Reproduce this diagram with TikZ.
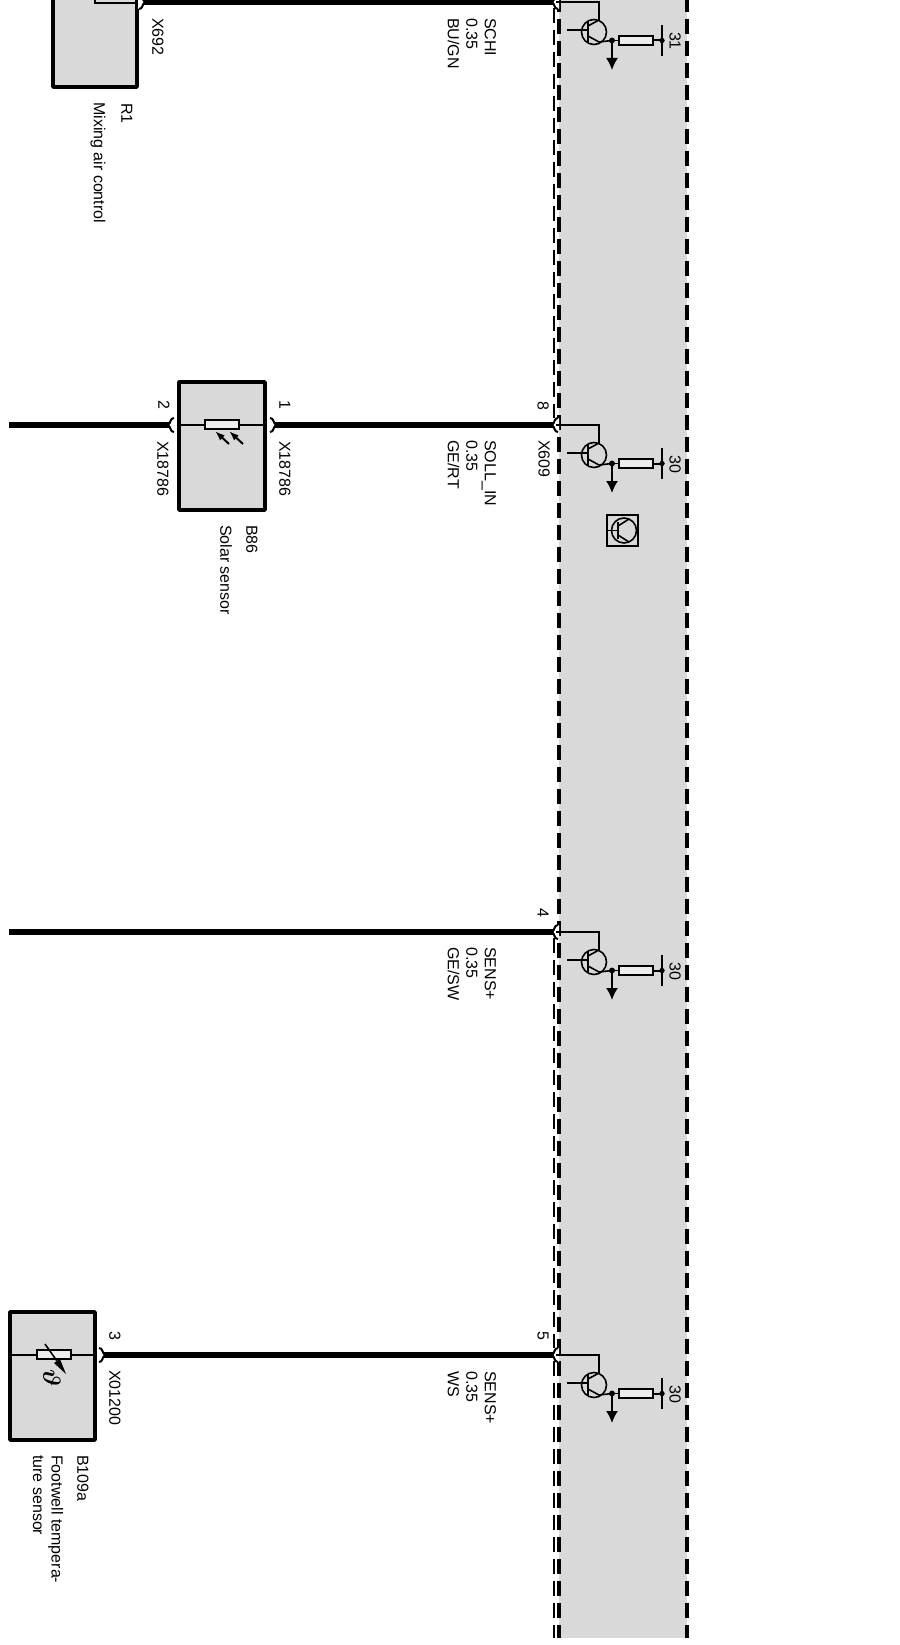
\documentclass[tikz,border=0pt]{standalone}
\usepackage{fontspec}
\setmainfont{Liberation Sans}
\usetikzlibrary{arrows.meta}

\definecolor{boxgray}{HTML}{D9D9D9}
\definecolor{resgray}{HTML}{EDEDED}

\tikzset{
    wire/.style={line width=5.5pt},
    thinwire/.style={line width=1.6pt},
    boxline/.style={line width=3.6pt, fill=boxgray, line join=round},
    pindash/.style={line width=2pt, dash pattern=on 15pt off 7pt},
    ecudash/.style={line width=3.4pt, dash pattern=on 15pt off 7pt},
    reslt/.style={line width=1.7pt, fill=resgray},
    lbl/.style={rotate=-90, anchor=west, inner sep=0pt, align=left, font=\fontsize{16}{18.5}\selectfont},
    pics/pinmark/.style={code={
        \fill[white] (0,-7) .. controls (-3,-7) and (-3,-2) .. (-5,0) .. controls (-3,2) and (-3,7) .. (0,7) -- (2,7) -- (2,-7) -- cycle;
        \draw[line width=2pt] (1,-7) .. controls (-3,-7) and (-2,-2) .. (-5,0) .. controls (-2,2) and (-3,7) .. (1,7);
    }},
    pics/outstage/.style={code={
        \draw[thinwire] (4,0) -- (47,0) -- (47,18) -- (36,24); %collector
        \draw[thinwire] (36,34) -- (47,40) -- (60,38.5); %emitter
        \draw[thinwire] (15,28) -- (36,28); %base
        \draw[line width=2pt] (36,19) -- (36,40);
        \draw[thinwire] (42,30) circle (12.5pt);
        \filldraw (60,38.5) circle (2.7pt);
        \draw[thinwire, -{Latex[length=12pt,width=12pt]}] (60,38.5) -- (60,68);
        \draw[thinwire] (60,38.5) -- (67,38.5);
        \draw[reslt] (67,34) rectangle (101,43);
        \draw[line width=2pt] (101,38.5) -- (110,38.5);
        \draw[line width=2.2pt] (110,23) -- (110,54);
        \filldraw (110,38.5) circle (2.4pt);
        \node[lbl, anchor=center] (num) at (123,39) {#1};
    }}
}

\begin{document}
\begin{tikzpicture}[x=1pt, y=-1pt]
    \useasboundingbox (0,0) rectangle (899,1645);

    % Control unit
    \fill[boxgray] (559,-3) rectangle (687,1638);
    \draw[ecudash] (559,-3) -- (559,1638);
    \draw[ecudash] (687,-3) -- (687,1638);
    \draw[pindash] (554,8) -- (554,418);
    \draw[pindash] (554,938) -- (554,1348);
    \draw[pindash] (554,1361) -- (554,1638);

    % Components
    \draw[boxline] (53,-10) rectangle (137,87); %R1
    \draw[thinwire] (95,-10) -- (95,3) -- (137,3);
    \draw[boxline] (179,382) rectangle (265,510); %B86
    \draw[boxline] (10,1312) rectangle (95,1440); %B109a

    % Pin points
    \coordinate (pinMixA) at (140,2);
    \coordinate (pinMixB) at (557,2);
    \coordinate (freeSol) at (9,425);
    \coordinate (pinSolA) at (173,425);
    \coordinate (pinSolB) at (271,425);
    \coordinate (pinSolC) at (557,425);
    \coordinate (freeSens) at (9,932);
    \coordinate (pinSensB) at (557,932);
    \coordinate (pinFootA) at (100,1355);
    \coordinate (pinFootB) at (557,1355);

    % Wires
    \draw[wire] (pinMixA) -- (pinMixB); %SCHI
    \draw[wire] (freeSol) -- (pinSolA);
    \draw[wire] (pinSolB) -- (pinSolC); %SOLL_IN
    \draw[wire] (freeSens) -- (pinSensB); %SENS+
    \draw[wire] (pinFootA) -- (pinFootB); %SENS+

    % Connector marks
    \pic at (pinMixA) [xscale=-1] {pinmark};
    \pic at (pinMixB) {pinmark};
    \pic at (pinSolA) {pinmark};
    \pic at (pinSolB) [xscale=-1] {pinmark};
    \pic at (pinSolC) {pinmark};
    \pic at (pinSensB) {pinmark};
    \pic at (pinFootA) [xscale=-1] {pinmark};
    \pic at (pinFootB) {pinmark};

    % Output stages
    \pic (stageA) at (552,2) {outstage=31};
    \pic (stageB) at (552,425) {outstage=30};
    \pic (stageC) at (552,932) {outstage=30};
    \pic (stageD) at (552,1355) {outstage=30};

    % Transistor symbol
    \draw[line width=1.7pt] (607,515) rectangle (638,546);
    \draw[thinwire] (624,530.5) circle (12.5pt);
    \draw[thinwire] (608,530.5) -- (618,530.5);
    \draw[line width=2pt] (618,522) -- (618,539);
    \draw[thinwire] (618,526) -- (629,519);
    \draw[thinwire] (618,535) -- (629,542);

    % Solar sensor
    \draw[thinwire] (179,425) -- (205,425);
    \draw[thinwire] (239,425) -- (265,425);
    \draw[reslt] (205,420) rectangle (239,429);
    \draw[line width=2pt, -{Latex[length=10pt,width=7pt]}] (229,444) -- (215,431);
    \draw[line width=2pt, -{Latex[length=10pt,width=7pt]}] (243,444) -- (229,431);

    % Footwell sensor
    \draw[thinwire] (10,1355) -- (95,1355);
    \draw[reslt] (37,1350) rectangle (71,1359);
    \draw[thinwire] (45,1344) -- (57,1361);
    \fill (54,1363) -- (60,1359) -- (66,1374) -- cycle;
    \node[lbl, anchor=center, font=\fontsize{23}{23}\selectfont\boldmath] (theta) at (52,1378) {$\vartheta$};

    % Wire letters
    \node[lbl] (sigMix) at (472,18) {SCHI\\0.35\\BU/GN};
    \node[lbl] (sigSol) at (472,440) {SOLL\_IN\\0.35\\GE/RT};
    \node[lbl] (sigSens) at (472,947) {SENS+\\0.35\\GE/SW};
    \node[lbl] (sigFoot) at (472,1371) {SENS+\\0.35\\WS};

    % Pin letters
    \node[lbl, anchor=center] (numSolC) at (543,406) {8};
    \node[lbl, anchor=center] (numSens) at (543,913) {4};
    \node[lbl, anchor=center] (numFootB) at (543,1336) {5};
    \node[lbl, anchor=center] (numSolB) at (285,405) {1};
    \node[lbl, anchor=center] (numSolA) at (164,405) {2};
    \node[lbl, anchor=center] (numFootA) at (115,1336) {3};

    % Connector letters
    \node[lbl] (conMix) at (158,18) {X692};
    \node[lbl] (conSolC) at (544,440) {X609};
    \node[lbl] (conSolB) at (285,441) {X18786};
    \node[lbl] (conSolA) at (163,441) {X18786};
    \node[lbl] (conFoot) at (115,1370) {X01200};

    % Component letters
    \node[lbl] (idMix) at (127,103) {R1};
    \node[lbl] (nameMix) at (98,102) {Mixing air control};
    \node[lbl] (idSol) at (252,525) {B86};
    \node[lbl] (nameSol) at (226,525) {Solar sensor};
    \node[lbl] (idFoot) at (83,1455) {B109a};
    \node[lbl] (nameFoot) at (48,1455) {Footwell tempera-\\ture sensor};
\end{tikzpicture}
\end{document}
